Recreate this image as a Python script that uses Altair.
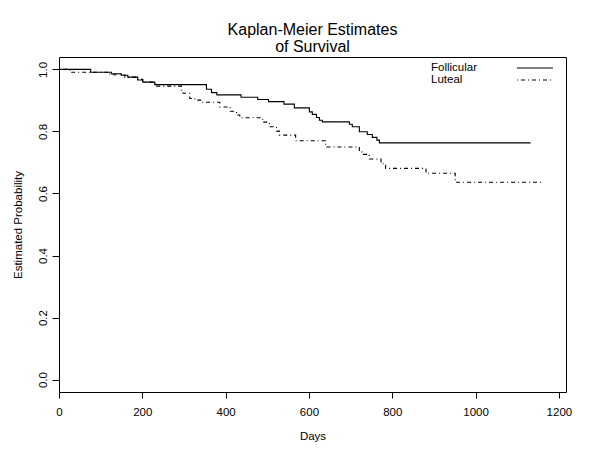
import altair as alt
import pandas as pd

# ---- data ----
follicular_days = [0, 76, 126, 150, 165, 189, 201, 230, 354, 366, 379, 437, 477, 503, 540,
                   565, 601, 608, 618, 625, 632, 697, 704, 721, 740, 752, 763, 769, 1132]
follicular_surv = [1.0, 0.991, 0.986, 0.981, 0.975, 0.966, 0.959, 0.951, 0.936, 0.925, 0.918,
                   0.910, 0.903, 0.896, 0.888, 0.876, 0.863, 0.855, 0.845, 0.836, 0.831, 0.823,
                   0.815, 0.799, 0.790, 0.781, 0.772, 0.763, 0.763]

luteal_days = [0, 26, 122, 158, 187, 201, 230, 294, 298, 314, 326, 345, 386, 411, 426, 434,
               489, 505, 522, 529, 568, 640, 721, 727, 745, 773, 784, 881, 951, 1164]
luteal_surv = [1.0, 0.991, 0.983, 0.975, 0.968, 0.959, 0.946, 0.933, 0.923, 0.906, 0.901,
               0.894, 0.879, 0.865, 0.853, 0.844, 0.830, 0.815, 0.801, 0.788, 0.770, 0.750,
               0.734, 0.726, 0.711, 0.696, 0.681, 0.665, 0.636, 0.636]

series_names = ["Follicular", "Luteal"]
x_ticks = [0, 200, 400, 600, 800, 1000, 1200]
y_ticks = [0.0, 0.2, 0.4, 0.6, 0.8, 1.0]
title_lines = ["Kaplan-Meier Estimates", "of Survival"]
x_title = "Days"
y_title = "Estimated Probability"

df = pd.concat([
    pd.DataFrame({"day": follicular_days, "surv": follicular_surv, "group": series_names[0]}),
    pd.DataFrame({"day": luteal_days, "surv": luteal_surv, "group": series_names[1]}),
], ignore_index=True)

FONT = "Liberation Sans"
FS = 11.5
W, H = 507, 335
dash_range = [[1, 0], [1, 3, 4, 3]]

x_enc = alt.X(
    "day:Q",
    scale=alt.Scale(domain=[0, 1217], nice=False, zero=False),
    axis=alt.Axis(values=x_ticks, format="d", title=x_title, grid=False, domain=False,
                  tickColor="black", tickSize=6, labelPadding=8, titlePadding=13,
                  labelFlush=False, labelOverlap=False,
                  labelColor="black", titleColor="black", labelFont=FONT, titleFont=FONT,
                  labelFontSize=FS, titleFontSize=FS, titleFontWeight="normal"),
)
y_enc = alt.Y(
    "surv:Q",
    scale=alt.Scale(domain=[-0.04, 1.04], nice=False, zero=False),
    axis=alt.Axis(values=y_ticks, format=".1f", title=y_title, grid=False, domain=False,
                  tickColor="black", tickSize=7, labelPadding=6, titlePadding=14,
                  labelAngle=270, labelAlign="center", labelBaseline="alphabetic",
                  labelFlush=False, labelOverlap=False,
                  labelColor="black", titleColor="black", labelFont=FONT, titleFont=FONT,
                  labelFontSize=FS, titleFontSize=FS, titleFontWeight="normal"),
)

curves = alt.Chart(df).mark_line(interpolate="step-after", color="black", strokeWidth=1.1).encode(
    x=x_enc,
    y=y_enc,
    strokeDash=alt.StrokeDash("group:N", scale=alt.Scale(domain=series_names, range=dash_range),
                              legend=None),
)

# manual R-style legend: text on the left, line sample on the right
leg_rows = []
for i, name in enumerate(series_names):
    d = pd.DataFrame({"group": [name]})
    ypix = 11 + 12 * i
    txt = alt.Chart(d).mark_text(align="left", baseline="middle", font=FONT, fontSize=FS,
                                 color="black").encode(
        x=alt.value(372), y=alt.value(ypix), text="group:N")
    ln = alt.Chart(d).mark_rule(color="black", strokeWidth=1.1,
                                strokeDash=dash_range[i]).encode(
        x=alt.value(458), x2=alt.value(494), y=alt.value(ypix))
    leg_rows += [txt, ln]

chart = alt.layer(curves, *leg_rows).properties(
    width=W, height=H,
    title=alt.TitleParams(text=title_lines, fontSize=16, font=FONT, fontWeight="normal",
                          color="black", anchor="middle", lineHeight=17.5, offset=2),
    autosize=alt.AutoSizeParams(type="none"),
    padding={"left": 51, "top": 49, "right": 20, "bottom": 55},
).configure(background="white").configure_view(stroke="black", strokeWidth=1)

chart.save("out.html", embed_options={"renderer": "svg", "actions": False})
